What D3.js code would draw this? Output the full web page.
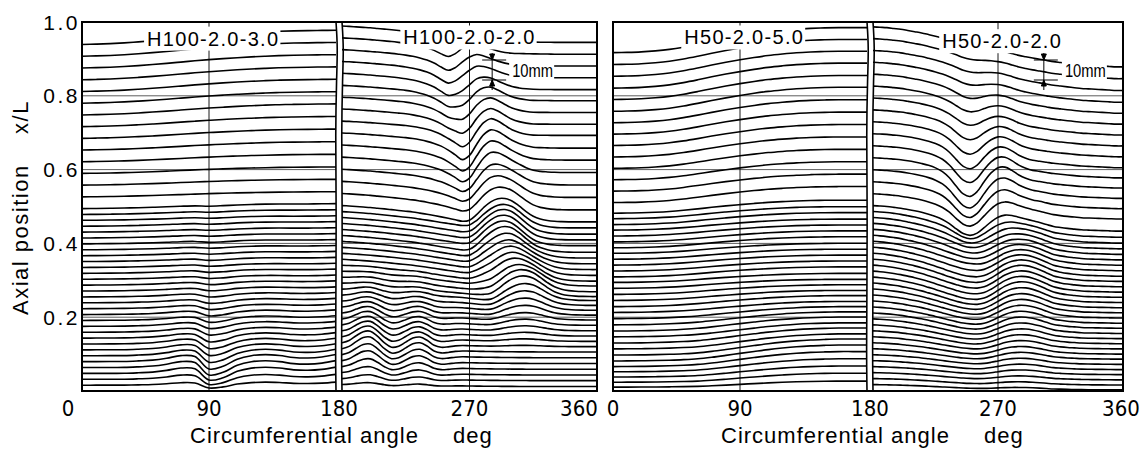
<!DOCTYPE html>
<html>
<head>
<meta charset="utf-8">
<script src="https://cdn.jsdelivr.net/npm/d3@7"></script>
<style>
  body { margin: 0; background: #fff; }
  text { fill: #000; }
</style>
</head>
<body>
<svg id="chart" width="1144" height="450"></svg>
<script>
// gauge lines, x/L (every 10 mm in the lower half, every 20 mm above)
var gaugeLevels = [0.016,0.032,0.048,0.064,0.080,0.096,0.112,0.128,0.144,0.160,0.176,0.192,0.208,0.224,0.240,0.256,0.272,0.288,0.304,0.320,0.336,0.352,0.368,0.384,0.400,0.416,0.432,0.448,0.464,0.480,0.496,
  0.528,0.560,0.592,0.624,0.656,0.688,0.720,0.752,0.784,0.816,0.848,0.880,0.912,0.944,0.976];

var yTicks = [0.2, 0.4, 0.6, 0.8, 1.0];
var yTickLabels = ['0.2', '0.4', '0.6', '0.8', '1.0'];
var xTicks = [0, 90, 180, 270, 360];
var specimenNames = ['H100-2.0-3.0', 'H100-2.0-2.0', 'H50-2.0-5.0', 'H50-2.0-2.0'];

var leftAngles = [0,10,20,30,40,50,60,70,80,90,100,110,120,130,140,150,160,170,180];
var rightAngles = [180,185,190,195,200,205,210,215,220,225,230,235,240,245,250,255,260,265,270,275,280,285,290,295,300,305,310,315,320,325,330,335,340,345,350,355,360];

// deformation shapes (unit profiles) and per-line amplitudes in mm, upward positive

// H100-2.0-3.0 (0-180)
var h1Tilt = [-0.15,-0.12,-0.08,-0.02,0.06,0.15,0.25,0.36,0.47,0.57,0.66,0.74,0.81,0.87,0.92,0.95,0.97,0.99,1];
var h1Wave = [0,0,0,0,0.05,0.12,0.3,0.55,0.45,-0.8,-0.55,0.15,0.5,0.6,0.5,0.3,0.25,0.35,0.6];
var h1TiltW = [0.3,0.3,0.4,0.4,0.5,0.5,0.6,0.7,0.8,0.9,1,1,1.1,1.2,1.2,1.3,1.3,1.4,1.4,1.5,1.5,1.5,1.6,1.6,1.6,1.7,1.7,1.8,1.8,1.9,2,
  2.2,2.5,2.8,3.2,3.6,4,4.4,4.8,5,5.3,5.6,5.8,6,6.2];
var h1WaveW = [2,3.5,4.5,5,5,4.5,4,3.5,3,2.5,2.2,2,1.8,1.6,1.4,1.2,1,0.9,0.8,0.7,0.6,0.6,0.5,0.5,0.5,0.4,0.4,0.4,0.3,0.3,0.3,
  0,0,0,0,0,0,0,0,0,0,0,0,0,0];

// H100-2.0-2.0 (180-360)
var h2Slope = [0.3,0.28,0.25,0.22,0.19,0.15,0.11,0.07,0.03,-0.01,-0.05,-0.1,-0.15,-0.2,-0.25,-0.3,-0.35,-0.4,-0.45,-0.5,-0.54,-0.58,-0.61,-0.64,-0.66,-0.68,-0.69,-0.7,-0.71,-0.71,-0.72,-0.72,-0.72,-0.72,-0.72,-0.72,-0.72];
var h2DipHigh = [0,0,0,0,0,0,0,0,-0.02,-0.05,-0.1,-0.18,-0.3,-0.5,-0.8,-1,-0.6,0.1,0.6,0.8,0.6,0.35,0.15,0.05,0,0,0,0,0,0,0,0,0,0,0,0,0];
var h2DipLow = [0,0,0,0,0,0,0,0,0,0,-0.02,-0.05,-0.1,-0.18,-0.3,-0.5,-0.75,-1,-0.7,0,0.6,0.9,0.8,0.55,0.3,0.15,0.05,0,0,0,0,0,0,0,0,0,0];
var h2Bulge = [0,-0.015,-0.03,-0.045,-0.06,-0.08,-0.1,-0.125,-0.15,-0.175,-0.2,-0.235,-0.27,-0.31,-0.35,-0.385,-0.42,-0.45,-0.4,-0.15,0.2,0.5,0.7,0.75,0.65,0.4,0.1,-0.15,-0.3,-0.38,-0.42,-0.44,-0.45,-0.45,-0.45,-0.45,-0.45];
var h2BulgeLow = [0,-0.01,-0.02,-0.03,-0.045,-0.06,-0.075,-0.09,-0.11,-0.13,-0.15,-0.17,-0.2,-0.23,-0.26,-0.29,-0.32,-0.35,-0.385,-0.42,-0.45,-0.4,-0.15,0.2,0.5,0.7,0.75,0.65,0.4,0.1,-0.15,-0.3,-0.38,-0.42,-0.44,-0.45,-0.45];
var h2Base = [0,0.2,0.6,0.95,1,0.6,0.05,-0.3,-0.2,0.15,0.5,0.6,0.35,-0.05,-0.2,-0.15,-0.05,0,0,0,0,0,0,0,0,0,0,0,0,0,0,0,0,0,0,0,0];
var h2SlopeW = [1,1,1.2,1.3,1.4,1.5,1.6,1.7,1.8,1.9,2,2,2.1,2.2,2.3,2.4,2.5,2.6,2.7,2.8,2.9,3,3.1,3.2,3.3,3.4,3.5,3.6,3.7,3.8,4,
  4.5,5,5.5,6,6.5,7,7,7.5,7.5,7.5,8,8,8,8,8];
var h2DipHighW = [0,0,0,0,0,0,0,0,0,0,0,0,0,0,0,0,0,0,0,0,0,0,0,0,0,0,0,0,0,0,0,
  0,0,0,0,0,0,0.5,1.5,2.5,3.5,4.5,5,5,4.5,2];
var h2DipLowW = [0,0,0,0,0,0,0,0,0,0,0,0,0,0,0,0,0,0,0,0,0,0,0,0,0,0,0,0,0,0,1,
  2,3.5,5,6.5,7.5,8,8,7,6,5,3.5,2,1,0,0];
var h2BulgeW = [0,0,0,0,0,0,0,0,0,0,0,0,0,0,0,0,0,1,2,3,5,6,7,8,9,10,10,10,10,9.5,9,
  8,6.5,5,3.5,2,1,0,0,0,0,0,0,0,0,0];
var h2BulgeLowW = [0,0,0,0,0,0,0,0.5,1,1.5,2,2.5,3,4,5,6,7,8,8,7,6,5,4,3,2,1,0,0,0,0,0,
  0,0,0,0,0,0,0,0,0,0,0,0,0,0,0];
var h2BaseW = [1,2,3,4,5,5.5,6,6,5.5,5,4.5,4,3.5,3,2.5,2,1.5,1,0.8,0.5,0.3,0,0,0,0,0,0,0,0,0,0,
  0,0,0,0,0,0,0,0,0,0,0,0,0,0,0];

// H50-2.0-5.0 (0-180)
var h3Tilt = [-0.4,-0.39,-0.37,-0.33,-0.27,-0.18,-0.07,0.05,0.16,0.26,0.35,0.43,0.49,0.54,0.57,0.59,0.6,0.6,0.6];
var h3Rise = [-0.3,-0.3,-0.3,-0.3,-0.3,-0.3,-0.28,-0.2,-0.08,0.06,0.2,0.34,0.46,0.56,0.63,0.67,0.7,0.7,0.7];
var h3TiltW = [1,1.5,2,2.5,3,3,3,3,3.5,3.5,4,4,4,4,4.5,4.5,4.5,4.5,4.5,5,5,5,5,5,5.5,5.5,5.5,5.5,6,6,6.5,
  8,8.5,9,9.5,10,10.5,11,11.5,12,12,12.5,12.5,12.5,12.5];
var h3RiseW = [2,3,3.5,4,4.5,5,5,4.5,4,3.5,3,2.5,2,1.5,1,0.5,0.3,0,0,0,0,0,0,0,0,0,0,0,0,0,0,
  0,0,0,0,0,0,0,0,0,0,0,0,0,0];

// H50-2.0-2.0 (180-360)
var h4Fall = [0.1,0.09,0.08,0.06,0.04,0.01,-0.02,-0.05,-0.09,-0.13,-0.17,-0.21,-0.25,-0.3,-0.34,-0.38,-0.42,-0.46,-0.5,-0.54,-0.58,-0.62,-0.65,-0.68,-0.71,-0.74,-0.77,-0.79,-0.81,-0.83,-0.85,-0.86,-0.87,-0.88,-0.89,-0.9,-0.9];
var h4Dip = [0,0,0,0,0,0,-0.01,-0.03,-0.05,-0.1,-0.2,-0.4,-0.7,-0.95,-1,-0.75,-0.3,0.1,0.35,0.4,0.3,0.15,0.05,0,0,0,0,0,0,0,0,0,0,0,0,0,0];
var h4Wave = [0,-0.02,-0.05,-0.08,-0.12,-0.17,-0.22,-0.28,-0.35,-0.42,-0.5,-0.58,-0.65,-0.7,-0.72,-0.7,-0.6,-0.4,-0.15,0.1,0.28,0.38,0.4,0.35,0.25,0.12,0,-0.06,-0.1,-0.12,-0.14,-0.15,-0.15,-0.15,-0.15,-0.15,-0.15];
var h4FallW = [2.5,3,3.3,3.6,4,4.3,4.6,5,5.3,5.6,6,6.3,6.6,7,7.3,7.6,8,8.3,8.6,9,9.3,9.6,10,10.3,10.6,11,11.3,11.6,11.8,12,12,
  12,13,14,15,16,17,17.5,18,18.5,19,19.5,20,20,20,20];
var h4DipW = [0,0,0,0,0,0,0,0,0,0,0,0,0,0,0,0,0,0,0,0,0,0,0,0,0,0.5,1,1.5,2.5,4,6,
  8,10,11.5,12,11,10,8.5,7,5.5,4.5,3.5,2.5,2,1.5,1];
var h4WaveW = [1,1.5,2,2.5,3,3.5,4,4.5,5,5.5,6,6.5,7,7.5,8,8.5,9,9.5,10,10,10,10,10,9.5,9,8.5,8,7.5,7,6,5,
  4,3,2,1,0.5,0,0,0,0,0,0,0,0,0,0];

// 10 mm scale marks on the right halves
var scaleMarks = [{ half: 1, angle: 286, level: 0.897, textAngle: 298 }, { half: 3, angle: 303, level: 0.897, textAngle: 316 }];

// slight waviness of the cut at 180 deg (offset in deg)
var cutLevels = [1.0, 0.93, 0.85, 0.7, 0.5, 0.3, 0.1, 0.0];
var cutOffset = [0, 1.2, 0.4, -0.4, 0.2, 0, -0.4, 0];

var svg = d3.select('#chart');
var yTop = 22, yBot = 391;
var y = d3.scaleLinear().domain([0, 1]).range([yBot, yTop]);
var mm = d3.scaleLinear().domain([0, 10]).range([0, 20]);

var panels = [
  { x0: 82, sepL: 336, sepR: 342, x1: 597, tickShift: [-14, 0, 0, 0, -18] },
  { x0: 613, sepL: 867, sepR: 873, x1: 1123, tickShift: [0, 0, 0, 0, -2] }
];

var halves = [
  { panel: 0, side: 0, angles: leftAngles, modes: [h1Tilt, h1Wave], weights: [h1TiltW, h1WaveW], label: [93, 0.955] },
  { panel: 0, side: 1, angles: rightAngles, modes: [h2Slope, h2DipHigh, h2DipLow, h2Bulge, h2BulgeLow, h2Base],
    weights: [h2SlopeW, h2DipHighW, h2DipLowW, h2BulgeW, h2BulgeLowW, h2BaseW], label: [270, 0.958] },
  { panel: 1, side: 0, angles: leftAngles, modes: [h3Tilt, h3Rise], weights: [h3TiltW, h3RiseW], label: [93, 0.958] },
  { panel: 1, side: 1, angles: rightAngles, modes: [h4Fall, h4Dip, h4Wave], weights: [h4FallW, h4DipW, h4WaveW], label: [273, 0.948] }
];

halves.forEach(function (h, k) {
  var p = panels[h.panel];
  h.x = h.side === 0
    ? d3.scaleLinear().domain([0, 180]).range([p.x0, p.sepL])
    : d3.scaleLinear().domain([180, 360]).range([p.sepR, p.x1]);
  h.name = specimenNames[k];
});

var defs = svg.append('defs');
halves.forEach(function (h, k) {
  var r = h.x.range();
  defs.append('clipPath').attr('id', 'clip' + k)
    .append('rect').attr('x', r[0]).attr('y', yTop).attr('width', r[1] - r[0]).attr('height', yBot - yTop);
});

// grid
halves.forEach(function (h, k) {
  var r = h.x.range();
  var g = svg.append('g').attr('class', 'grid');
  g.selectAll('line.h').data([0.2, 0.4, 0.6, 0.8]).enter().append('line')
    .attr('x1', r[0]).attr('x2', r[1])
    .attr('y1', function (d) { return y(d); }).attr('y2', function (d) { return y(d); })
    .attr('stroke', '#333').attr('stroke-width', 0.8);
  var mid = h.side === 0 ? 90 : 270;
  g.append('line')
    .attr('x1', h.x(mid)).attr('x2', h.x(mid))
    .attr('y1', yTop).attr('y2', yBot)
    .attr('stroke', '#000').attr('stroke-width', 0.9);
});

// deformed gauge lines
var curve = d3.curveCatmullRom.alpha(0.5);
halves.forEach(function (h, k) {
  var n = h.weights[0].length;
  var lines = d3.range(n).map(function (i) {
    return h.angles.map(function (a, j) {
      var d = 0;
      h.modes.forEach(function (m, q) { d += m[j] * h.weights[q][i]; });
      return { angle: a, level: gaugeLevels[i], disp: d };
    });
  });
  var gen = d3.line()
    .x(function (p) { return h.x(p.angle); })
    .y(function (p) { return y(p.level) - mm(p.disp); })
    .curve(curve);
  svg.append('g').attr('clip-path', 'url(#clip' + k + ')')
    .selectAll('path').data(lines).enter().append('path')
    .attr('d', gen)
    .attr('fill', 'none')
    .attr('stroke', '#000')
    .attr('stroke-width', 1.6);
});

// specimen labels with white backing
function backedText(x, yy, str, size, family, spacing, len) {
  var g = svg.append('g');
  var t = g.append('text')
    .attr('x', x).attr('y', yy)
    .attr('text-anchor', 'middle')
    .attr('dominant-baseline', 'central')
    .style('font-family', family)
    .style('font-size', size + 'px')
    .style('letter-spacing', spacing + 'px')
    .text(str);
  if (len) t.attr('textLength', len).attr('lengthAdjust', 'spacingAndGlyphs');
  var b = t.node().getBBox();
  g.insert('rect', 'text')
    .attr('x', b.x - 3).attr('y', b.y - 1)
    .attr('width', b.width + 4).attr('height', b.height + 2)
    .attr('fill', '#fff');
  return g;
}

halves.forEach(function (h) {
  backedText(h.x(h.label[0]), y(h.label[1]), h.name, 20, "'Liberation Sans', Arial, sans-serif", 1.3);
});

// 10 mm scale marks
scaleMarks.forEach(function (s) {
  var h = halves[s.half];
  var x = h.x(s.angle);
  var y1 = y(s.level), y2 = y1 + mm(10);
  var g = svg.append('g').attr('stroke', '#000').attr('stroke-width', 1);
  g.append('line').attr('x1', x).attr('x2', x).attr('y1', y1 - 7).attr('y2', y2 + 10);
  g.append('line').attr('x1', x - 10).attr('x2', x + 14).attr('y1', y1).attr('y2', y1);
  g.append('line').attr('x1', x - 10).attr('x2', x + 14).attr('y1', y2).attr('y2', y2);
  g.append('path').attr('d', 'M' + (x - 2.5) + ',' + (y1 - 6) + 'L' + x + ',' + y1 + 'L' + (x + 2.5) + ',' + (y1 - 6) + 'Z').attr('fill', '#000');
  g.append('path').attr('d', 'M' + (x - 2.5) + ',' + (y2 + 6) + 'L' + x + ',' + y2 + 'L' + (x + 2.5) + ',' + (y2 + 6) + 'Z').attr('fill', '#000');
  var tg = backedText(0, (y1 + y2) / 2, '10mm', 19, "'Liberation Sans', Arial, sans-serif", 0, 41);
  var bb = tg.node().getBBox();
  tg.attr('transform', 'translate(' + (h.x(s.textAngle) - bb.x) + ',0)');
});

// cuts at 180 deg and frames
panels.forEach(function (p, pi) {
  var left = halves[pi * 2], right = halves[pi * 2 + 1];
  var pts = cutLevels.map(function (l, i) { return [l, cutOffset[i]]; });
  var cutL = d3.line().x(function (d) { return left.x(180 + d[1]); }).y(function (d) { return y(d[0]); }).curve(d3.curveBasis);
  var cutR = d3.line().x(function (d) { return right.x(180 + d[1]); }).y(function (d) { return y(d[0]); }).curve(d3.curveBasis);
  svg.append('path').attr('d', cutL(pts)).attr('fill', 'none').attr('stroke', '#000').attr('stroke-width', 1.6);
  svg.append('path').attr('d', cutR(pts)).attr('fill', 'none').attr('stroke', '#000').attr('stroke-width', 1.6);
  svg.append('rect')
    .attr('x', p.x0).attr('y', yTop)
    .attr('width', p.x1 - p.x0).attr('height', yBot - yTop)
    .attr('fill', 'none').attr('stroke', '#000').attr('stroke-width', 2);

  // x tick labels
  xTicks.forEach(function (t, i) {
    var xx = t < 180 ? left.x(t) : (t > 180 ? right.x(t) : (p.sepL + p.sepR) / 2);
    svg.append('text')
      .attr('x', xx + p.tickShift[i]).attr('y', 416)
      .attr('text-anchor', 'middle')
      .style('font-family', "'Liberation Sans Narrow', 'DejaVu Sans Condensed', sans-serif")
      .style('font-size', '22px')
      .text(t);
  });

  // x axis title
  svg.append('text')
    .attr('x', p.x0 + 108).attr('y', 443)
    .style('font-family', "'Liberation Sans', Arial, sans-serif")
    .style('font-size', '22px').style('letter-spacing', '1px')
    .text('Circumferential angle');
  svg.append('text')
    .attr('x', p.x0 + 371).attr('y', 443)
    .style('font-family', "'Liberation Sans', Arial, sans-serif")
    .style('font-size', '22px').style('letter-spacing', '1px')
    .text('deg');
});

// y tick labels (left panel only)
svg.append('g').selectAll('text').data(yTicks).enter().append('text')
  .attr('x', panels[0].x0 - 2).attr('y', function (d) { return y(d); })
  .attr('text-anchor', 'end')
  .attr('dominant-baseline', 'central')
  .style('font-family', "'Liberation Sans', Arial, sans-serif")
  .style('font-size', '21px').style('letter-spacing', '2.5px')
  .text(function (d, i) { return yTickLabels[i]; });

// y axis title
svg.append('text')
  .attr('transform', 'translate(20,' + (y(0.5) + 1) + ') rotate(-90)')
  .attr('text-anchor', 'middle')
  .attr('dominant-baseline', 'central')
  .attr('xml:space', 'preserve')
  .style('white-space', 'pre')
  .style('font-family', "'Liberation Sans', Arial, sans-serif")
  .style('font-size', '22px').style('letter-spacing', '1.5px')
  .text('Axial position    x/L');
</script>
</body>
</html>
